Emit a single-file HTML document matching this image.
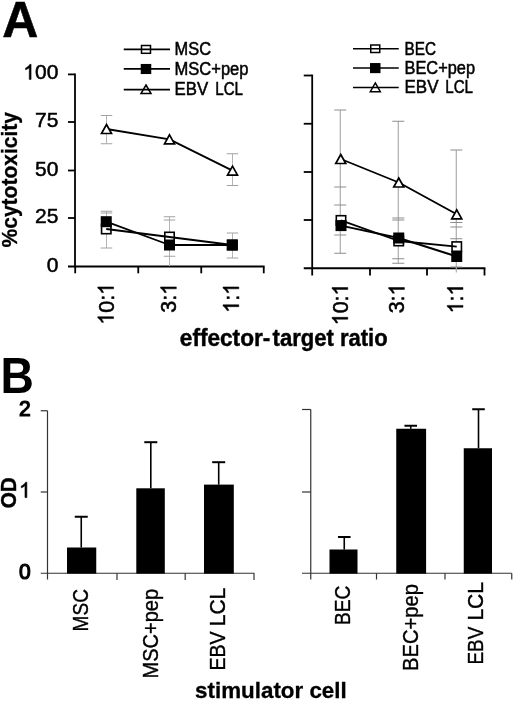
<!DOCTYPE html>
<html><head><meta charset="utf-8"><title>Figure</title>
<style>html,body{margin:0;padding:0;background:#fff}svg{filter:grayscale(1) blur(.35px)}svg text{font-family:"Liberation Sans",sans-serif}</style>
</head><body>
<svg width="520" height="702" viewBox="0 0 520 702" style="display:block">
<rect width="520" height="702" fill="#fff"/>
<text transform="translate(2.2,37.3) scale(1.085,1.07)" font-family="Liberation Sans, sans-serif" font-size="46" font-weight="bold" text-anchor="start" fill="#000" stroke="#000" stroke-width="0.5">A</text>
<text transform="translate(0.6,392.6) scale(1.005,1.068)" font-family="Liberation Sans, sans-serif" font-size="46" font-weight="bold" text-anchor="start" fill="#000">B</text>
<line x1="75" y1="73.5" x2="75" y2="267.4" stroke="#000" stroke-width="1.8" />
<line x1="68" y1="266.5" x2="264.6" y2="266.5" stroke="#000" stroke-width="1.8" />
<line x1="68" y1="74.4" x2="75" y2="74.4" stroke="#000" stroke-width="1.8" />
<line x1="68" y1="122" x2="75" y2="122" stroke="#000" stroke-width="1.8" />
<line x1="68" y1="170.5" x2="75" y2="170.5" stroke="#000" stroke-width="1.8" />
<line x1="68" y1="218" x2="75" y2="218" stroke="#000" stroke-width="1.8" />
<line x1="75.2" y1="266.5" x2="75.2" y2="273.3" stroke="#000" stroke-width="1.8" />
<line x1="138.25" y1="266.5" x2="138.25" y2="273.3" stroke="#000" stroke-width="1.8" />
<line x1="201.25" y1="266.5" x2="201.25" y2="273.3" stroke="#000" stroke-width="1.8" />
<line x1="263.75" y1="266.5" x2="263.75" y2="273.3" stroke="#000" stroke-width="1.8" />
<g transform="translate(58.3,79.4)">
<path transform="translate(-35.038,0) scale(0.010254,-0.010254)" d="M763 0H583V1147Q518 1085 412.5 1023T223 930V1104Q373 1174.5 485 1275T644 1470H763Z" fill="#000" stroke="#000" stroke-width="48.8"/>
<text x="-23.358" y="0" font-family="Liberation Sans, sans-serif" font-size="21" fill="#000" stroke="#000" stroke-width="0.5">00</text>
</g>
<g transform="translate(58.3,127)">
<text x="-23.358" y="0" font-family="Liberation Sans, sans-serif" font-size="21" fill="#000" stroke="#000" stroke-width="0.5">75</text>
</g>
<g transform="translate(58.3,175.5)">
<text x="-23.358" y="0" font-family="Liberation Sans, sans-serif" font-size="21" fill="#000" stroke="#000" stroke-width="0.5">50</text>
</g>
<g transform="translate(58.3,223)">
<text x="-23.358" y="0" font-family="Liberation Sans, sans-serif" font-size="21" fill="#000" stroke="#000" stroke-width="0.5">25</text>
</g>
<g transform="translate(58.3,271.5)">
<text x="-11.679" y="0" font-family="Liberation Sans, sans-serif" font-size="21" fill="#000" stroke="#000" stroke-width="0.5">0</text>
</g>
<text transform="translate(16.6,179.75) rotate(-90) scale(1,1.07)" font-family="Liberation Sans, sans-serif" font-size="21" font-weight="bold" text-anchor="middle" fill="#000" stroke="#000" stroke-width="0.3">%cytotoxicity</text>
<g transform="translate(113.55,283) rotate(-90) scale(1.02,1.045)">
<path transform="translate(-40.872,0) scale(0.010254,-0.010254)" d="M763 0H583V1147Q518 1085 412.5 1023T223 930V1104Q373 1174.5 485 1275T644 1470H763Z" fill="#000" stroke="#000" stroke-width="48.8"/>
<text x="-29.193" y="0" font-family="Liberation Sans, sans-serif" font-size="21" fill="#000" stroke="#000" stroke-width="0.5">0:</text>
<path transform="translate(-11.679,0) scale(0.010254,-0.010254)" d="M763 0H583V1147Q518 1085 412.5 1023T223 930V1104Q373 1174.5 485 1275T644 1470H763Z" fill="#000" stroke="#000" stroke-width="48.8"/>
</g>
<g transform="translate(176.3,283) rotate(-90) scale(1.02,1.045)">
<text x="-29.193" y="0" font-family="Liberation Sans, sans-serif" font-size="21" fill="#000" stroke="#000" stroke-width="0.5">3:</text>
<path transform="translate(-11.679,0) scale(0.010254,-0.010254)" d="M763 0H583V1147Q518 1085 412.5 1023T223 930V1104Q373 1174.5 485 1275T644 1470H763Z" fill="#000" stroke="#000" stroke-width="48.8"/>
</g>
<g transform="translate(238.8,283) rotate(-90) scale(1.02,1.045)">
<path transform="translate(-29.193,0) scale(0.010254,-0.010254)" d="M763 0H583V1147Q518 1085 412.5 1023T223 930V1104Q373 1174.5 485 1275T644 1470H763Z" fill="#000" stroke="#000" stroke-width="48.8"/>
<text x="-17.514" y="0" font-family="Liberation Sans, sans-serif" font-size="21" fill="#000" stroke="#000" stroke-width="0.5">:</text>
<path transform="translate(-11.679,0) scale(0.010254,-0.010254)" d="M763 0H583V1147Q518 1085 412.5 1023T223 930V1104Q373 1174.5 485 1275T644 1470H763Z" fill="#000" stroke="#000" stroke-width="48.8"/>
</g>
<line x1="106.5" y1="115.5" x2="106.5" y2="143.75" stroke="#b4b4b4" stroke-width="1" />
<line x1="100.75" y1="115.5" x2="112.25" y2="115.5" stroke="#a2a2a2" stroke-width="1" />
<line x1="100.75" y1="143.75" x2="112.25" y2="143.75" stroke="#a2a2a2" stroke-width="1" />
<line x1="106.5" y1="211.25" x2="106.5" y2="248" stroke="#b4b4b4" stroke-width="1" />
<line x1="100.75" y1="211.25" x2="112.25" y2="211.25" stroke="#a2a2a2" stroke-width="1" />
<line x1="100.75" y1="213" x2="112.25" y2="213" stroke="#a2a2a2" stroke-width="1" />
<line x1="100.75" y1="248" x2="112.25" y2="248" stroke="#a2a2a2" stroke-width="1" />
<line x1="169.5" y1="216.75" x2="169.5" y2="266" stroke="#b4b4b4" stroke-width="1" />
<line x1="163.75" y1="216.75" x2="175.25" y2="216.75" stroke="#a2a2a2" stroke-width="1" />
<line x1="163.75" y1="220" x2="175.25" y2="220" stroke="#a2a2a2" stroke-width="1" />
<line x1="163.75" y1="256.25" x2="175.25" y2="256.25" stroke="#a2a2a2" stroke-width="1" />
<line x1="232.5" y1="153.75" x2="232.5" y2="185.5" stroke="#b4b4b4" stroke-width="1" />
<line x1="226.75" y1="153.75" x2="238.25" y2="153.75" stroke="#a2a2a2" stroke-width="1" />
<line x1="226.75" y1="185.5" x2="238.25" y2="185.5" stroke="#a2a2a2" stroke-width="1" />
<line x1="232.5" y1="233" x2="232.5" y2="258" stroke="#b4b4b4" stroke-width="1" />
<line x1="226.75" y1="233" x2="238.25" y2="233" stroke="#a2a2a2" stroke-width="1" />
<line x1="226.75" y1="258" x2="238.25" y2="258" stroke="#a2a2a2" stroke-width="1" />
<rect x="101.55" y="224.3" width="9.4" height="9.4" fill="#fff" stroke="#000" stroke-width="1.6"/>
<rect x="164.8" y="232.3" width="9.4" height="9.4" fill="#fff" stroke="#000" stroke-width="1.6"/>
<rect x="227.60000000000002" y="240.3" width="9.4" height="9.4" fill="#fff" stroke="#000" stroke-width="1.6"/>
<polyline points="106.25,229 169.5,237 232.3,245" fill="none" stroke="#000" stroke-width="1.85" stroke-linejoin="round"/>
<polyline points="106.25,221.7 169.5,245 232.3,245" fill="none" stroke="#000" stroke-width="1.85" stroke-linejoin="round"/>
<rect x="101.55" y="217.0" width="9.4" height="9.4" fill="#000" stroke="#000" stroke-width="1.6"/>
<rect x="164.8" y="240.3" width="9.4" height="9.4" fill="#000" stroke="#000" stroke-width="1.6"/>
<rect x="227.60000000000002" y="240.3" width="9.4" height="9.4" fill="#000" stroke="#000" stroke-width="1.6"/>
<polyline points="106.5,129 169.5,139.3 232.5,170.7" fill="none" stroke="#000" stroke-width="1.85" stroke-linejoin="round"/>
<polygon points="106.5,124.5 111.5,133.5 101.5,133.5" fill="#fff" stroke="#000" stroke-width="1.7" stroke-linejoin="miter"/>
<polygon points="169.5,134.8 174.5,143.8 164.5,143.8" fill="#fff" stroke="#000" stroke-width="1.7" stroke-linejoin="miter"/>
<polygon points="232.5,166.2 237.5,175.2 227.5,175.2" fill="#fff" stroke="#000" stroke-width="1.7" stroke-linejoin="miter"/>
<rect x="141.5" y="45.5" width="9" height="7.8" fill="#fff" stroke="#000" stroke-width="1.5"/>
<line x1="123.75" y1="49.3" x2="170" y2="49.3" stroke="#000" stroke-width="1.7" />
<rect x="141.5" y="64.7" width="9" height="8.6" fill="#000" stroke="#000" stroke-width="1.5"/>
<line x1="123.75" y1="68.9" x2="170" y2="68.9" stroke="#000" stroke-width="1.7" />
<polygon points="146,85.0 151.0,93.6 141.0,93.6" fill="#fff" stroke="#000" stroke-width="1.5" stroke-linejoin="miter"/>
<line x1="123.75" y1="89.7" x2="170" y2="89.7" stroke="#000" stroke-width="1.7" />
<text transform="translate(174.5,55.4)" font-family="Liberation Sans, sans-serif" font-size="18" text-anchor="start" fill="#000" textLength="36.5" lengthAdjust="spacingAndGlyphs" stroke="#000" stroke-width="0.5">MSC</text>
<text transform="translate(174.5,75.2)" font-family="Liberation Sans, sans-serif" font-size="18" text-anchor="start" fill="#000" textLength="74" lengthAdjust="spacingAndGlyphs" stroke="#000" stroke-width="0.5">MSC+pep</text>
<text transform="translate(174.5,95.3)" font-family="Liberation Sans, sans-serif" font-size="18" text-anchor="start" fill="#000" textLength="33.6" lengthAdjust="spacingAndGlyphs" stroke="#000" stroke-width="0.5">EBV</text>
<text transform="translate(215.2,95.3)" font-family="Liberation Sans, sans-serif" font-size="18" text-anchor="start" fill="#000" textLength="27.8" lengthAdjust="spacingAndGlyphs" stroke="#000" stroke-width="0.5">LCL</text>
<line x1="312.2" y1="74.6" x2="312.2" y2="269.15" stroke="#000" stroke-width="1.8" />
<line x1="303.75" y1="268.25" x2="485.4" y2="268.25" stroke="#000" stroke-width="1.8" />
<line x1="303.75" y1="75.5" x2="312.2" y2="75.5" stroke="#000" stroke-width="1.8" />
<line x1="303.75" y1="123.75" x2="312.2" y2="123.75" stroke="#000" stroke-width="1.8" />
<line x1="303.75" y1="172" x2="312.2" y2="172" stroke="#000" stroke-width="1.8" />
<line x1="303.75" y1="220" x2="312.2" y2="220" stroke="#000" stroke-width="1.8" />
<line x1="312.2" y1="268.25" x2="312.2" y2="275.5" stroke="#000" stroke-width="1.8" />
<line x1="370" y1="268.25" x2="370" y2="275.5" stroke="#000" stroke-width="1.8" />
<line x1="427" y1="268.25" x2="427" y2="275.5" stroke="#000" stroke-width="1.8" />
<line x1="484.5" y1="268.25" x2="484.5" y2="275.5" stroke="#000" stroke-width="1.8" />
<g transform="translate(347.8,283.6) rotate(-90) scale(1.02,1.045)">
<path transform="translate(-40.872,0) scale(0.010254,-0.010254)" d="M763 0H583V1147Q518 1085 412.5 1023T223 930V1104Q373 1174.5 485 1275T644 1470H763Z" fill="#000" stroke="#000" stroke-width="48.8"/>
<text x="-29.193" y="0" font-family="Liberation Sans, sans-serif" font-size="21" fill="#000" stroke="#000" stroke-width="0.5">0:</text>
<path transform="translate(-11.679,0) scale(0.010254,-0.010254)" d="M763 0H583V1147Q518 1085 412.5 1023T223 930V1104Q373 1174.5 485 1275T644 1470H763Z" fill="#000" stroke="#000" stroke-width="48.8"/>
</g>
<g transform="translate(404.40000000000003,283.6) rotate(-90) scale(1.02,1.045)">
<text x="-29.193" y="0" font-family="Liberation Sans, sans-serif" font-size="21" fill="#000" stroke="#000" stroke-width="0.5">3:</text>
<path transform="translate(-11.679,0) scale(0.010254,-0.010254)" d="M763 0H583V1147Q518 1085 412.5 1023T223 930V1104Q373 1174.5 485 1275T644 1470H763Z" fill="#000" stroke="#000" stroke-width="48.8"/>
</g>
<g transform="translate(463.0,283.6) rotate(-90) scale(1.02,1.045)">
<path transform="translate(-29.193,0) scale(0.010254,-0.010254)" d="M763 0H583V1147Q518 1085 412.5 1023T223 930V1104Q373 1174.5 485 1275T644 1470H763Z" fill="#000" stroke="#000" stroke-width="48.8"/>
<text x="-17.514" y="0" font-family="Liberation Sans, sans-serif" font-size="21" fill="#000" stroke="#000" stroke-width="0.5">:</text>
<path transform="translate(-11.679,0) scale(0.010254,-0.010254)" d="M763 0H583V1147Q518 1085 412.5 1023T223 930V1104Q373 1174.5 485 1275T644 1470H763Z" fill="#000" stroke="#000" stroke-width="48.8"/>
</g>
<line x1="340.3" y1="110.2" x2="340.3" y2="253.25" stroke="#adadad" stroke-width="1.2" />
<line x1="334.3" y1="110" x2="346.3" y2="110" stroke="#8c8c8c" stroke-width="1" />
<line x1="334.3" y1="187" x2="346.3" y2="187" stroke="#8c8c8c" stroke-width="1" />
<line x1="334.3" y1="205" x2="346.3" y2="205" stroke="#8c8c8c" stroke-width="1" />
<line x1="334.3" y1="235" x2="346.3" y2="235" stroke="#8c8c8c" stroke-width="1" />
<line x1="334.3" y1="253.25" x2="346.3" y2="253.25" stroke="#8c8c8c" stroke-width="1" />
<line x1="398.3" y1="121.25" x2="398.3" y2="263.25" stroke="#adadad" stroke-width="1.2" />
<line x1="392.3" y1="121.25" x2="404.3" y2="121.25" stroke="#8c8c8c" stroke-width="1" />
<line x1="392.3" y1="218" x2="404.3" y2="218" stroke="#8c8c8c" stroke-width="1" />
<line x1="392.3" y1="220" x2="404.3" y2="220" stroke="#8c8c8c" stroke-width="1" />
<line x1="392.3" y1="258.75" x2="404.3" y2="258.75" stroke="#8c8c8c" stroke-width="1" />
<line x1="392.3" y1="263.25" x2="404.3" y2="263.25" stroke="#8c8c8c" stroke-width="1" />
<line x1="456.3" y1="150" x2="456.3" y2="272.5" stroke="#adadad" stroke-width="1.2" />
<line x1="450.3" y1="150" x2="462.3" y2="150" stroke="#8c8c8c" stroke-width="1" />
<line x1="450.3" y1="222.5" x2="462.3" y2="222.5" stroke="#8c8c8c" stroke-width="1" />
<line x1="450.3" y1="227" x2="462.3" y2="227" stroke="#8c8c8c" stroke-width="1" />
<line x1="450.3" y1="238.75" x2="462.3" y2="238.75" stroke="#8c8c8c" stroke-width="1" />
<line x1="450.3" y1="267" x2="462.3" y2="267" stroke="#8c8c8c" stroke-width="1" />
<rect x="336.3" y="215.70000000000002" width="9.4" height="9.4" fill="#fff" stroke="#000" stroke-width="1.6"/>
<rect x="394.05" y="236.3" width="9.4" height="9.4" fill="#fff" stroke="#000" stroke-width="1.6"/>
<rect x="452.05" y="241.9" width="9.4" height="9.4" fill="#fff" stroke="#000" stroke-width="1.6"/>
<polyline points="341,220.4 398.75,241 456.75,246.6" fill="none" stroke="#000" stroke-width="1.85" stroke-linejoin="round"/>
<polyline points="341,225.6 398.75,238 456.75,256.5" fill="none" stroke="#000" stroke-width="1.85" stroke-linejoin="round"/>
<rect x="336.3" y="220.9" width="9.4" height="9.4" fill="#000" stroke="#000" stroke-width="1.6"/>
<rect x="394.05" y="233.3" width="9.4" height="9.4" fill="#000" stroke="#000" stroke-width="1.6"/>
<rect x="452.05" y="251.8" width="9.4" height="9.4" fill="#000" stroke="#000" stroke-width="1.6"/>
<polyline points="340.75,159 398.75,182.5 456.75,214.3" fill="none" stroke="#000" stroke-width="1.85" stroke-linejoin="round"/>
<polygon points="340.75,154.5 345.75,163.5 335.75,163.5" fill="#fff" stroke="#000" stroke-width="1.7" stroke-linejoin="miter"/>
<polygon points="398.75,178.0 403.75,187.0 393.75,187.0" fill="#fff" stroke="#000" stroke-width="1.7" stroke-linejoin="miter"/>
<polygon points="456.75,209.8 461.75,218.8 451.75,218.8" fill="#fff" stroke="#000" stroke-width="1.7" stroke-linejoin="miter"/>
<rect x="370.75" y="45.0" width="9" height="7.5" fill="#fff" stroke="#000" stroke-width="1.5"/>
<line x1="353" y1="48.75" x2="398.75" y2="48.75" stroke="#000" stroke-width="1.7" />
<rect x="370.75" y="63.8" width="9" height="8.6" fill="#000" stroke="#000" stroke-width="1.5"/>
<line x1="353" y1="68" x2="398.75" y2="68" stroke="#000" stroke-width="1.7" />
<polygon points="375.3,82.89999999999999 380.3,91.7 370.3,91.7" fill="#fff" stroke="#000" stroke-width="1.5" stroke-linejoin="miter"/>
<line x1="353" y1="87.5" x2="398.75" y2="87.5" stroke="#000" stroke-width="1.7" />
<text transform="translate(404.5,54.5)" font-family="Liberation Sans, sans-serif" font-size="18" text-anchor="start" fill="#000" textLength="31.5" lengthAdjust="spacingAndGlyphs" stroke="#000" stroke-width="0.5">BEC</text>
<text transform="translate(404.5,74)" font-family="Liberation Sans, sans-serif" font-size="18" text-anchor="start" fill="#000" textLength="70.5" lengthAdjust="spacingAndGlyphs" stroke="#000" stroke-width="0.5">BEC+pep</text>
<text transform="translate(404.5,93)" font-family="Liberation Sans, sans-serif" font-size="18" text-anchor="start" fill="#000" textLength="34" lengthAdjust="spacingAndGlyphs" stroke="#000" stroke-width="0.5">EBV</text>
<text transform="translate(445.2,93)" font-family="Liberation Sans, sans-serif" font-size="18" text-anchor="start" fill="#000" textLength="27.8" lengthAdjust="spacingAndGlyphs" stroke="#000" stroke-width="0.5">LCL</text>
<text transform="translate(179.8,346.4) scale(1,1.08)" font-family="Liberation Sans, sans-serif" font-size="22" font-weight="bold" text-anchor="start" fill="#000" textLength="90.5" lengthAdjust="spacingAndGlyphs" stroke="#000" stroke-width="0.4">effector-</text>
<text transform="translate(272.6,346.4) scale(1,1.08)" font-family="Liberation Sans, sans-serif" font-size="22" font-weight="bold" text-anchor="start" fill="#000" textLength="115" lengthAdjust="spacingAndGlyphs" stroke="#000" stroke-width="0.4">target ratio</text>
<line x1="47.5" y1="410.75" x2="47.5" y2="579.5" stroke="#333" stroke-width="1.2" />
<line x1="40.75" y1="573.25" x2="254.4" y2="573.25" stroke="#333" stroke-width="1.2" />
<line x1="40.75" y1="410.75" x2="47.5" y2="410.75" stroke="#333" stroke-width="1.2" />
<line x1="40.75" y1="492" x2="47.5" y2="492" stroke="#333" stroke-width="1.2" />
<line x1="117" y1="573.25" x2="117" y2="580" stroke="#333" stroke-width="1.2" />
<line x1="185.2" y1="573.25" x2="185.2" y2="580" stroke="#333" stroke-width="1.2" />
<line x1="254" y1="573.25" x2="254" y2="580" stroke="#333" stroke-width="1.2" />
<rect x="67" y="547.5" width="29.25" height="26.100000000000023" fill="#000"/>
<line x1="81.25" y1="516.75" x2="81.25" y2="547.5" stroke="#000" stroke-width="1.6" />
<line x1="74.75" y1="516.75" x2="87.75" y2="516.75" stroke="#000" stroke-width="2" />
<rect x="136.3" y="488.3" width="28.5" height="85.30000000000001" fill="#000"/>
<line x1="150.8" y1="442.2" x2="150.8" y2="488.3" stroke="#000" stroke-width="1.6" />
<line x1="144.3" y1="442.2" x2="157.3" y2="442.2" stroke="#000" stroke-width="2" />
<rect x="204" y="484.6" width="29.80000000000001" height="89.0" fill="#000"/>
<line x1="218.7" y1="462.2" x2="218.7" y2="484.6" stroke="#000" stroke-width="1.6" />
<line x1="212.2" y1="462.2" x2="225.2" y2="462.2" stroke="#000" stroke-width="2" />
<g transform="translate(30.7,416.3) scale(1,1.02)">
<text x="-11.679" y="0" font-family="Liberation Sans, sans-serif" font-size="21" fill="#000" stroke="#000" stroke-width="1.2">2</text>
</g>
<g transform="translate(30.7,497.6) scale(1,1.02)">
<path transform="translate(-11.679,0) scale(0.010254,-0.010254)" d="M763 0H583V1147Q518 1085 412.5 1023T223 930V1104Q373 1174.5 485 1275T644 1470H763Z" fill="#000" stroke="#000" stroke-width="58.5"/>
</g>
<g transform="translate(30.7,578.6) scale(1,1.02)">
<text x="-11.679" y="0" font-family="Liberation Sans, sans-serif" font-size="21" fill="#000" stroke="#000" stroke-width="1.2">0</text>
</g>
<text transform="translate(16.2,492.7) rotate(-90) scale(1.035,1.08)" font-family="Liberation Sans, sans-serif" font-size="20" font-weight="bold" text-anchor="middle" fill="#000" stroke="#000" stroke-width="0.4">OD</text>
<text transform="translate(88,589) rotate(-90) scale(1,1.08)" font-family="Liberation Sans, sans-serif" font-size="20.5" text-anchor="end" fill="#000" textLength="42.5" lengthAdjust="spacingAndGlyphs" stroke="#000" stroke-width="0.35">MSC</text>
<text transform="translate(157.5,589) rotate(-90) scale(1,1.08)" font-family="Liberation Sans, sans-serif" font-size="20.5" text-anchor="end" fill="#000" textLength="89.5" lengthAdjust="spacingAndGlyphs" stroke="#000" stroke-width="0.35">MSC+pep</text>
<text transform="translate(224.9,587.7) rotate(-90) scale(1,1.08)" font-family="Liberation Sans, sans-serif" font-size="20.5" text-anchor="end" fill="#000" textLength="38.6" lengthAdjust="spacingAndGlyphs" stroke="#000" stroke-width="0.35">LCL</text>
<text transform="translate(224.9,631.6) rotate(-90) scale(1,1.08)" font-family="Liberation Sans, sans-serif" font-size="20.5" text-anchor="end" fill="#000" textLength="39" lengthAdjust="spacingAndGlyphs" stroke="#000" stroke-width="0.35">EBV</text>
<line x1="310.75" y1="409.5" x2="310.75" y2="579.5" stroke="#333" stroke-width="1.2" />
<line x1="302" y1="573.25" x2="511.75" y2="573.25" stroke="#333" stroke-width="1.2" />
<line x1="302" y1="409.5" x2="310.75" y2="409.5" stroke="#333" stroke-width="1.2" />
<line x1="302" y1="492" x2="310.75" y2="492" stroke="#333" stroke-width="1.2" />
<line x1="376.5" y1="573.25" x2="376.5" y2="579.5" stroke="#333" stroke-width="1.2" />
<line x1="445" y1="573.25" x2="445" y2="579.5" stroke="#333" stroke-width="1.2" />
<line x1="511.75" y1="573.25" x2="511.75" y2="579.5" stroke="#333" stroke-width="1.2" />
<rect x="329.5" y="549.5" width="28.0" height="24.100000000000023" fill="#000"/>
<line x1="344.25" y1="537" x2="344.25" y2="549.5" stroke="#000" stroke-width="1.6" />
<line x1="337.95" y1="537" x2="350.55" y2="537" stroke="#000" stroke-width="2" />
<rect x="396.25" y="428.75" width="29.850000000000023" height="144.85000000000002" fill="#000"/>
<line x1="410.75" y1="425.75" x2="410.75" y2="428.75" stroke="#000" stroke-width="1.6" />
<line x1="404.45" y1="425.75" x2="417.05" y2="425.75" stroke="#000" stroke-width="2" />
<rect x="463.75" y="448.25" width="28.25" height="125.35000000000002" fill="#000"/>
<line x1="478.5" y1="409.25" x2="478.5" y2="448.25" stroke="#000" stroke-width="1.6" />
<line x1="472.2" y1="409.25" x2="484.8" y2="409.25" stroke="#000" stroke-width="2" />
<text transform="translate(349.5,585.5) rotate(-90) scale(1,1.08)" font-family="Liberation Sans, sans-serif" font-size="20.5" text-anchor="end" fill="#000" textLength="39.5" lengthAdjust="spacingAndGlyphs" stroke="#000" stroke-width="0.35">BEC</text>
<text transform="translate(417.5,584) rotate(-90) scale(1,1.08)" font-family="Liberation Sans, sans-serif" font-size="20.5" text-anchor="end" fill="#000" textLength="87" lengthAdjust="spacingAndGlyphs" stroke="#000" stroke-width="0.35">BEC+pep</text>
<text transform="translate(483,582) rotate(-90) scale(1,1.08)" font-family="Liberation Sans, sans-serif" font-size="20.5" text-anchor="end" fill="#000" textLength="38.6" lengthAdjust="spacingAndGlyphs" stroke="#000" stroke-width="0.35">LCL</text>
<text transform="translate(483,626.7) rotate(-90) scale(1,1.08)" font-family="Liberation Sans, sans-serif" font-size="20.5" text-anchor="end" fill="#000" textLength="37.8" lengthAdjust="spacingAndGlyphs" stroke="#000" stroke-width="0.35">EBV</text>
<text transform="translate(270.9,698.2) scale(1.017,1.02)" font-family="Liberation Sans, sans-serif" font-size="22" font-weight="bold" text-anchor="middle" fill="#000" stroke="#000" stroke-width="0.3">stimulator cell</text>
</svg>
</body></html>
